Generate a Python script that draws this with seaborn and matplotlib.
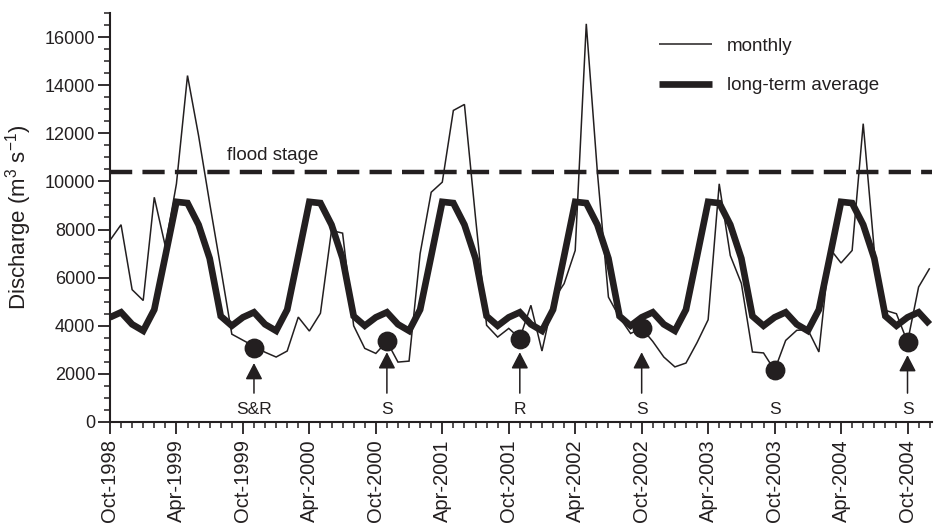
import numpy as np
import pandas as pd
import matplotlib
matplotlib.use("Agg")
import matplotlib.pyplot as plt
from matplotlib.ticker import MultipleLocator, FixedLocator
import seaborn as sns

# ---------------- data ----------------
TICK_LABELS = ["Oct-1998", "Apr-1999", "Oct-1999", "Apr-2000", "Oct-2000",
               "Apr-2001", "Oct-2001", "Apr-2002", "Oct-2002", "Apr-2003",
               "Oct-2003", "Apr-2004", "Oct-2004"]

# monthly discharge, Oct-1998 .. Dec-2004
MONTHLY = [7550, 8200, 5500, 5050, 9340, 7300, 9900, 14400, 11900, 9100, 6400, 3650,
           3400, 3150, 2900, 2700, 2950, 4360, 3780, 4520, 7960, 7850, 4000, 3060,
           2850, 3350, 2490, 2530, 7000, 9550, 9970, 12950, 13200, 8500, 4020, 3530,
           3890, 3480, 4850, 2950, 5050, 5750, 7130, 16550, 10400, 5190, 4350, 3680,
           3900, 3350, 2700, 2290, 2450, 3300, 4250, 9900, 6920, 5760, 2910, 2870,
           2150, 3390, 3810, 3840, 2910, 7200, 6610, 7130, 12400, 7130, 4640, 4500,
           3320, 5610, 6390]

# long-term average, Oct-1998 .. Dec-2004
LONG_TERM = [4350, 4560, 4060, 3790, 4670, 6900, 9150, 9100, 8200, 6800, 4400, 4000,
             4350, 4560, 4060, 3790, 4670, 6900, 9150, 9100, 8200, 6800, 4400, 4000,
             4350, 4560, 4060, 3790, 4670, 6900, 9150, 9100, 8200, 6800, 4400, 4000,
             4350, 4560, 4060, 3790, 4670, 6900, 9150, 9100, 8200, 6800, 4400, 4000,
             4350, 4560, 4060, 3790, 4670, 6900, 9150, 9100, 8200, 6800, 4400, 4000,
             4350, 4560, 4060, 3790, 4670, 6900, 9150, 9100, 8200, 6800, 4400, 4000,
             4350, 4560, 4060]

FLOOD_STAGE = 10400

# sampling events (month index from Oct-1998), discharge at sampling, label
SAMPLE_MONTH = [13, 25, 37, 48, 60, 72]
SAMPLE_Q = [3080, 3350, 3460, 3900, 2150, 3320]
SAMPLE_LABEL = ["S&R", "S", "R", "S", "S", "S"]
ARROW_TIP = [2450, 2900, 2900, 2900, None, 2780]

# ---------------- style ----------------
sns.set_style("ticks")
plt.rcParams["font.family"] = ["Liberation Sans", "DejaVu Sans"]
plt.rcParams["mathtext.fontset"] = "custom"
plt.rcParams["mathtext.rm"] = "Liberation Sans"
plt.rcParams["mathtext.it"] = "Liberation Sans:italic"
plt.rcParams["mathtext.bf"] = "Liberation Sans:bold"

INK = "#231f20"

months = np.arange(len(MONTHLY))
df = pd.DataFrame({"month": months, "monthly": MONTHLY, "avg": LONG_TERM})

fig = plt.figure(figsize=(9.48, 5.29), dpi=100)
ax = fig.add_axes([0.116, 0.2023, 0.983 - 0.116, 0.9754 - 0.2023])

sns.lineplot(data=df, x="month", y="monthly", ax=ax, color=INK, lw=1.1,
             label="monthly")
sns.lineplot(data=df, x="month", y="avg", ax=ax, color=INK, lw=4.8,
             label="long-term average")
for ln in ax.lines:
    ln.set_solid_joinstyle("miter")
    ln.set_solid_capstyle("butt")

ax.axhline(FLOOD_STAGE, color=INK, lw=3.2, dashes=(5.0, 2.3))
ax.text(10.6, 11080, "flood stage", fontsize=13.5, color=INK, va="center",
        ha="left")

sns.scatterplot(x=SAMPLE_MONTH, y=SAMPLE_Q, ax=ax, s=175, color=INK,
                edgecolor=INK, zorder=5, legend=False)

for m, lab, tip in zip(SAMPLE_MONTH, SAMPLE_LABEL, ARROW_TIP):
    ax.text(m, 500, lab, fontsize=12.5, color=INK, ha="center", va="center")
    if tip is not None:
        ax.annotate("", xy=(m, tip), xytext=(m, 1200),
                    arrowprops=dict(arrowstyle="-|>,head_length=0.5,head_width=0.26",
                                    mutation_scale=20, color=INK, lw=1.1,
                                    shrinkA=0, shrinkB=0))

# axes
ax.set_xlim(0, 74.2)
ax.set_ylim(0, 17000)
ax.xaxis.set_major_locator(FixedLocator(list(range(0, 73, 6))))
ax.set_xticklabels(TICK_LABELS, rotation=90, fontsize=14.5, color=INK)
ax.xaxis.set_minor_locator(MultipleLocator(1))
ax.yaxis.set_minor_locator(MultipleLocator(500))
ax.set_yticks(list(range(0, 16001, 2000)))
ax.set_yticklabels([str(v) for v in range(0, 16001, 2000)], fontsize=13, color=INK)
ax.tick_params(axis="both", which="major", direction="out", length=8.5, width=1.3,
               color=INK, pad=2)
ax.tick_params(axis="both", which="minor", direction="out", length=4, width=1.1,
               color=INK)
ax.tick_params(axis="x", which="major", pad=4)
ax.set_xlabel("")
ax.set_ylabel(r"Discharge (m$^{3}$ s$^{-1}$)", fontsize=16, color=INK, labelpad=8)
sns.despine(ax=ax)
for sp in ("left", "bottom"):
    ax.spines[sp].set_linewidth(1.5)
    ax.spines[sp].set_color(INK)

leg = ax.legend(loc="upper left", bbox_to_anchor=(0.668, 0.94), frameon=False,
                fontsize=13.5, handlelength=2.8, handletextpad=0.8,
                labelspacing=1.2, borderpad=0, borderaxespad=0)
for t in leg.get_texts():
    t.set_color(INK)

fig.savefig("out.png", dpi=100)
